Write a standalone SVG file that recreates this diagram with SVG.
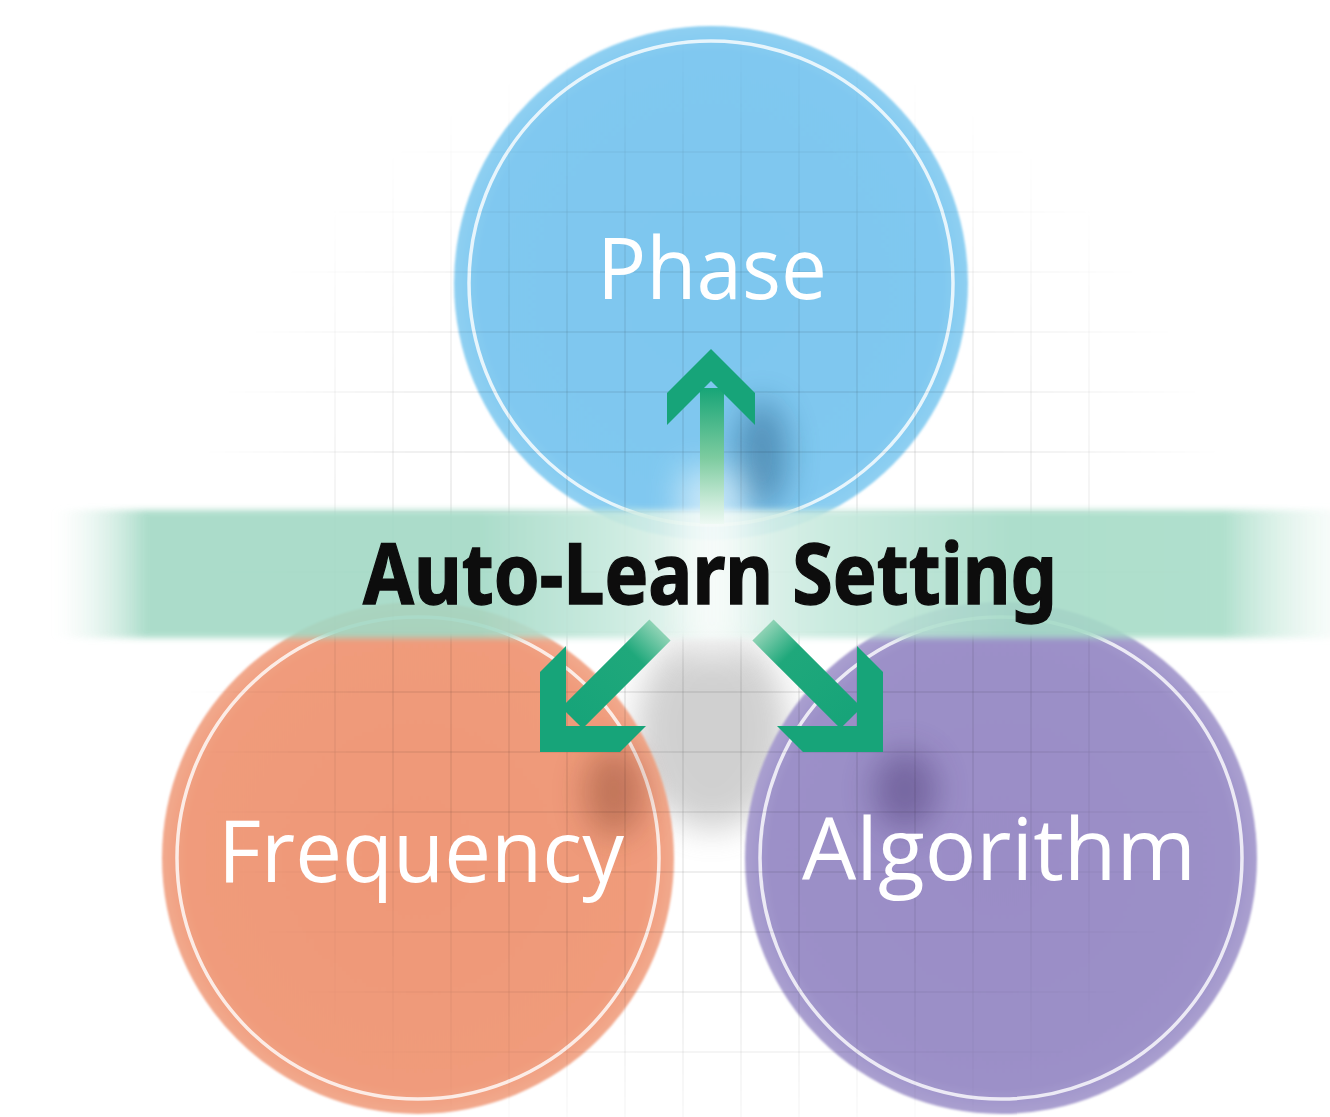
<svg xmlns="http://www.w3.org/2000/svg" width="1330" height="1117" viewBox="0 0 1330 1117">
  <style>
    .grid line { stroke: #000; stroke-opacity: 0.075; stroke-width: 2; }
    .ring { fill: none; stroke: #ffffff; stroke-opacity: 0.8; stroke-width: 3.5; }
    .label { font-family: "Open Sans", "Noto Sans", sans-serif; font-size: 86px; fill: #ffffff; text-anchor: middle; }
    .title { font-family: "Noto Sans", "Open Sans", sans-serif; font-weight: 700; font-size: 84px; fill: #0d0d0d; stroke: #0d0d0d; stroke-width: 1.4; text-anchor: middle; }
    .head { fill: #17a479; }
  </style>
  <defs>
    <radialGradient id="gridFade" cx="712" cy="620" r="560" gradientUnits="userSpaceOnUse" gradientTransform="translate(712 620) scale(0.95 1.05) translate(-712 -620)">
      <stop offset="0" stop-color="#fff" stop-opacity="1"/>
      <stop offset="0.6" stop-color="#fff" stop-opacity="0.8"/>
      <stop offset="0.85" stop-color="#fff" stop-opacity="0.3"/>
      <stop offset="1" stop-color="#fff" stop-opacity="0"/>
    </radialGradient>
    <mask id="gridMask" maskUnits="userSpaceOnUse" x="0" y="0" width="1330" height="1117">
      <rect x="0" y="0" width="1330" height="1117" fill="url(#gridFade)"/>
    </mask>
    <radialGradient id="blueFill" cx="0.5" cy="0.5" r="0.5">
      <stop offset="0" stop-color="#7ec7ef"/>
      <stop offset="0.9" stop-color="#80c8f0"/>
      <stop offset="1" stop-color="#8fd0f2"/>
    </radialGradient>
    <radialGradient id="orangeFill" cx="0.5" cy="0.5" r="0.5">
      <stop offset="0" stop-color="#ef9878"/>
      <stop offset="0.9" stop-color="#f09b7b"/>
      <stop offset="1" stop-color="#f2a98d"/>
    </radialGradient>
    <radialGradient id="purpleFill" cx="0.5" cy="0.5" r="0.5">
      <stop offset="0" stop-color="#9a8dc6"/>
      <stop offset="0.9" stop-color="#9c90c8"/>
      <stop offset="1" stop-color="#aaa0d0"/>
    </radialGradient>
    <linearGradient id="bandFill" x1="0" y1="0" x2="1330" y2="0" gradientUnits="userSpaceOnUse">
      <stop offset="0.04" stop-color="#e6f5ef" stop-opacity="0"/>
      <stop offset="0.11" stop-color="#a3d9c5" stop-opacity="1"/>
      <stop offset="0.36" stop-color="#a2d9c5"/>
      <stop offset="0.46" stop-color="#c6e9dd"/>
      <stop offset="0.535" stop-color="#eaf7f2"/>
      <stop offset="0.62" stop-color="#c6e9dd"/>
      <stop offset="0.76" stop-color="#a5dbc7"/>
      <stop offset="0.92" stop-color="#a8ddc8"/>
      <stop offset="1" stop-color="#e8f6f0" stop-opacity="0.4"/>
    </linearGradient>
    <linearGradient id="upShaft" x1="0" y1="390" x2="0" y2="525" gradientUnits="userSpaceOnUse">
      <stop offset="0" stop-color="#1aa678"/>
      <stop offset="0.5" stop-color="#7ccb9f"/>
      <stop offset="1" stop-color="#f0faf5"/>
    </linearGradient>
    <linearGradient id="leftShaft" x1="660" y1="630" x2="575" y2="716" gradientUnits="userSpaceOnUse">
      <stop offset="0" stop-color="#8fd3b5"/>
      <stop offset="0.3" stop-color="#1fa87b"/>
      <stop offset="1" stop-color="#17a479"/>
    </linearGradient>
    <linearGradient id="rightShaft" x1="763" y1="630" x2="848" y2="716" gradientUnits="userSpaceOnUse">
      <stop offset="0" stop-color="#8fd3b5"/>
      <stop offset="0.3" stop-color="#1fa87b"/>
      <stop offset="1" stop-color="#17a479"/>
    </linearGradient>
    <filter id="soft" x="-5%" y="-5%" width="110%" height="110%">
      <feGaussianBlur stdDeviation="1.2"/>
    </filter>
    <filter id="blurBig" x="-100%" y="-100%" width="300%" height="300%">
      <feGaussianBlur stdDeviation="16"/>
    </filter>
    <filter id="blurBand" x="-5%" y="-30%" width="110%" height="160%">
      <feGaussianBlur stdDeviation="3"/>
    </filter>
  </defs>

  <rect x="0" y="0" width="1330" height="1117" fill="#ffffff"/>

  <!-- central grey shadow behind circles -->
  <ellipse cx="712" cy="730" rx="75" ry="100" fill="#8c8c8c" opacity="0.4" filter="url(#blurBig)"/>

  <!-- Nodes -->
  <g id="node-phase">
    <circle cx="711" cy="283" r="257" fill="url(#blueFill)" filter="url(#soft)"/>
    <circle class="ring" cx="711" cy="283" r="242"/>
    <ellipse cx="762" cy="455" rx="26" ry="55" fill="#1d4f78" opacity="0.45" filter="url(#blurBig)"/>
  </g>
  <g id="node-frequency">
    <circle cx="418" cy="858" r="256" fill="url(#orangeFill)" filter="url(#soft)"/>
    <circle class="ring" cx="418" cy="858" r="241"/>
    <ellipse cx="614" cy="792" rx="30" ry="45" fill="#6b2e1a" opacity="0.35" filter="url(#blurBig)"/>
  </g>
  <g id="node-algorithm">
    <circle cx="1001" cy="858" r="256" fill="url(#purpleFill)" filter="url(#soft)"/>
    <circle class="ring" cx="1001" cy="858" r="241"/>
    <ellipse cx="905" cy="790" rx="32" ry="40" fill="#3c2a66" opacity="0.4" filter="url(#blurBig)"/>
  </g>

  <!-- faint background grid -->
  <g class="grid" mask="url(#gridMask)">
    <line x1="335" y1="0" x2="335" y2="1117"/>
    <line x1="393" y1="0" x2="393" y2="1117"/>
    <line x1="451" y1="0" x2="451" y2="1117"/>
    <line x1="509" y1="0" x2="509" y2="1117"/>
    <line x1="567" y1="0" x2="567" y2="1117"/>
    <line x1="625" y1="0" x2="625" y2="1117"/>
    <line x1="683" y1="0" x2="683" y2="1117"/>
    <line x1="741" y1="0" x2="741" y2="1117"/>
    <line x1="799" y1="0" x2="799" y2="1117"/>
    <line x1="857" y1="0" x2="857" y2="1117"/>
    <line x1="915" y1="0" x2="915" y2="1117"/>
    <line x1="973" y1="0" x2="973" y2="1117"/>
    <line x1="1031" y1="0" x2="1031" y2="1117"/>
    <line x1="1089" y1="0" x2="1089" y2="1117"/>
    <line x1="0" y1="152" x2="1330" y2="152"/>
    <line x1="0" y1="212" x2="1330" y2="212"/>
    <line x1="0" y1="272" x2="1330" y2="272"/>
    <line x1="0" y1="332" x2="1330" y2="332"/>
    <line x1="0" y1="392" x2="1330" y2="392"/>
    <line x1="0" y1="452" x2="1330" y2="452"/>
    <line x1="0" y1="512" x2="1330" y2="512"/>
    <line x1="0" y1="572" x2="1330" y2="572"/>
    <line x1="0" y1="632" x2="1330" y2="632"/>
    <line x1="0" y1="692" x2="1330" y2="692"/>
    <line x1="0" y1="752" x2="1330" y2="752"/>
    <line x1="0" y1="812" x2="1330" y2="812"/>
    <line x1="0" y1="872" x2="1330" y2="872"/>
    <line x1="0" y1="932" x2="1330" y2="932"/>
    <line x1="0" y1="992" x2="1330" y2="992"/>
    <line x1="0" y1="1052" x2="1330" y2="1052"/>
  </g>

  <!-- central band + title -->
  <g id="node-setting">
    <rect x="40" y="510" width="1300" height="128" fill="url(#bandFill)" opacity="0.9" filter="url(#blurBand)"/>
    <rect x="680" y="470" width="64" height="190" fill="#ffffff" opacity="0.55" filter="url(#blurBig)"/>
    <text class="title" x="710" y="604" textLength="694" lengthAdjust="spacingAndGlyphs">Auto-Learn Setting</text>
  </g>

  <!-- Connectors -->
  <g id="connectors">
    <g id="arrow-phase">
      <rect x="700" y="388" width="24" height="136" fill="url(#upShaft)"/>
      <polygon class="head" points="711,349 755,393 755,425 711,381 667,425 667,393"/>
    </g>
    <g id="arrow-frequency">
      <line x1="660" y1="630" x2="572" y2="718" stroke="url(#leftShaft)" stroke-width="30"/>
      <polygon class="head" points="540,672 540,752 620,752 646,726 566,726 566,646"/>
    </g>
    <g id="arrow-algorithm">
      <line x1="763" y1="630" x2="851" y2="718" stroke="url(#rightShaft)" stroke-width="30"/>
      <polygon class="head" points="883,672 883,752 803,752 777,726 857,726 857,646"/>
    </g>
  </g>

  <!-- labels -->
  <text class="label" x="712" y="299" textLength="230" lengthAdjust="spacingAndGlyphs">Phase</text>
  <text class="label" x="421" y="882" textLength="406" lengthAdjust="spacingAndGlyphs">Frequency</text>
  <text class="label" x="999" y="880" textLength="394" lengthAdjust="spacingAndGlyphs">Algorithm</text>
</svg>
